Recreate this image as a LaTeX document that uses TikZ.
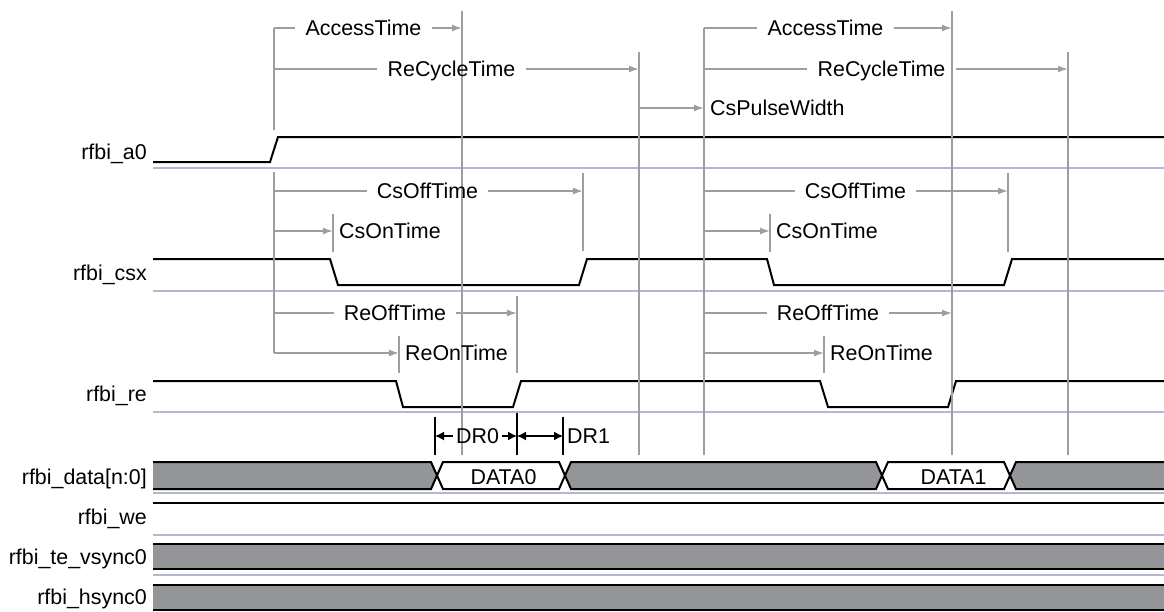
\documentclass[tikz,border=0pt]{standalone}
\usepackage{fontspec}
\setmainfont{Liberation Sans}
\usepackage{tikz}
\usetikzlibrary{arrows.meta}
\definecolor{tgray}{RGB}{158,158,158}
\definecolor{busgray}{RGB}{147,149,152}
\definecolor{sepline}{RGB}{180,184,206}

\begin{document}
\begin{tikzpicture}[x=1pt,y=-1pt,>={Latex[length=10pt,width=7pt]},
  sig/.style={line width=2pt,line join=miter},
  tl/.style={tgray,line width=1.6pt},
  sepl/.style={sepline,line width=1.6pt},
  lbl/.style={font=\fontsize{21.4}{25}\selectfont,inner sep=0pt,text height=15.3pt,text depth=0pt},
  meas/.style={lbl,inner xsep=10pt},
  dr/.style={black,line width=1.5pt,>={Latex[length=9pt,width=9pt]}}]
\useasboundingbox (0,0) rectangle (1164,611);

% timing marks
\coordinate (ts1) at (274,0);
\coordinate (ta1) at (462,0);
\coordinate (tc1) at (639,0);
\coordinate (ts2) at (704,0);
\coordinate (ta2) at (952,0);
\coordinate (tc2) at (1068,0);
\coordinate (tcson1) at (333,0);
\coordinate (tcsoff1) at (583,0);
\coordinate (treon1) at (399,0);
\coordinate (treoff1) at (517,0);
\coordinate (tcson2) at (770,0);
\coordinate (tcsoff2) at (1008,0);
\coordinate (treon2) at (824,0);
\coordinate (tdr0) at (435,0);
\coordinate (tdr1) at (563,0);

% row separators
\foreach \y in {168,291,412,493,535,575}
  \draw[sepl] (153,\y) -- (1164,\y);

% signal names
\foreach \n/\y/\t in {la0/152/rfbi\_a0, lcsx/273/rfbi\_csx, lre/394/rfbi\_re,
    ldata/477/rfbi\_data[n:0], lwe/517/rfbi\_we, lvs/557/rfbi\_te\_vsync0, lhs/597/rfbi\_hsync0}
  \node[lbl,anchor=east] (\n) at (147,\y) {\t};

% waveforms
\draw[sig] (153,162) -- (270,162) -- (278,137) -- (1164,137);
\draw[sig] (153,259) -- (330,259) -- (338,285) -- (579,285) -- (587,259) -- (767,259)
  -- (774,285) -- (1004,285) -- (1012,259) -- (1164,259);
\draw[sig] (153,381) -- (396,381) -- (403,407) -- (513,407) -- (521,381) -- (820,381)
  -- (828,407) -- (948,407) -- (956,381) -- (1164,381);
\draw[sig] (153,503) -- (1164,503);
\foreach \a/\b in {544/569,585/610} {
  \fill[busgray] (153,\a) rectangle (1164,\b);
  \draw[sig] (153,\a) -- (1164,\a) (153,\b) -- (1164,\b);
}

% data bus
\fill[busgray] (153,462) -- (431,462) -- (437,475.5) -- (431,489) -- (153,489) -- cycle;
\fill[busgray] (571,462) -- (565,475.5) -- (571,489) -- (876,489) -- (882,475.5) -- (876,462) -- cycle;
\fill[busgray] (1016,462) -- (1010,475.5) -- (1016,489) -- (1164,489) -- (1164,462) -- cycle;
\draw[sig] (153,462) -- (431,462) -- (443,489) -- (559,489) -- (571,462) -- (876,462)
  -- (888,489) -- (1004,489) -- (1016,462) -- (1164,462);
\draw[sig] (153,489) -- (431,489) -- (443,462) -- (559,462) -- (571,489) -- (876,489)
  -- (888,462) -- (1004,462) -- (1016,489) -- (1164,489);
\node[lbl] (d0) at (503.5,477) {DATA0};
\node[lbl] (d1) at (953.5,477) {DATA1};

% marker lines
\draw[tl] (274,28) -- (274,130) (274,172) -- (274,353);
\draw[tl] (462,11) -- (462,455);
\draw[tl] (639,52) -- (639,455);
\draw[tl] (704,28) -- (704,455);
\draw[tl] (952,11) -- (952,455);
\draw[tl] (1068,52) -- (1068,455);
\foreach \x/\a/\b in {333/214/252, 583/173/251, 399/336/373, 517/296/373,
    770/214/252, 1008/173/252, 824/336/373}
  \draw[tl] (\x,\a) -- (\x,\b);

% timing parameters
\foreach \n/\x/\y/\t/\a/\b in {nAcc1/363.5/28/AccessTime/ts1/ta1,
    nCyc1/451.5/69/ReCycleTime/ts1/tc1, nCsOff1/427.5/191/CsOffTime/ts1/tcsoff1,
    nReOff1/395/313/ReOffTime/ts1/treoff1, nAcc2/825.5/28/AccessTime/ts2/ta2,
    nCyc2/881.5/69/ReCycleTime/ts2/tc2, nCsOff2/855.5/191/CsOffTime/ts2/tcsoff2,
    nReOff2/828/313/ReOffTime/ts2/ta2} {
  \node[meas] (\n) at (\x,\y) {\t};
  \draw[tl] (\n.west) -- (\n.west -| \a);
  \draw[tl,->] (\n.east) -- (\n.east -| \b);
}
\foreach \n/\y/\t/\a/\b in {nCsOn1/231/CsOnTime/ts1/tcson1, nReOn1/353/ReOnTime/ts1/treon1,
    nCsOn2/231/CsOnTime/ts2/tcson2, nReOn2/353/ReOnTime/ts2/treon2,
    nPulse/108/CsPulseWidth/tc1/ts2} {
  \node[lbl,anchor=west,inner xsep=6pt] (\n) at (\b |- 0,\y) {\t};
  \draw[tl,->] (\n.west -| \a) -- (\n.west);
}

% data read windows
\foreach \x/\a in {435/417, 517/413, 563/417}
  \draw[dr] (\x,\a) -- (\x,455);
\node[lbl,inner xsep=3pt] (dr0) at (477.5,436) {DR0};
\draw[dr,->] (dr0.west) -- (dr0.west -| tdr0);
\draw[dr,->] (dr0.east) -- (dr0.east -| treoff1);
\draw[dr,<->] (treoff1 |- dr0) -- (tdr1 |- dr0);
\node[lbl,anchor=west,inner xsep=4pt] (dr1) at (tdr1 |- dr0) {DR1};
\end{tikzpicture}
\end{document}
